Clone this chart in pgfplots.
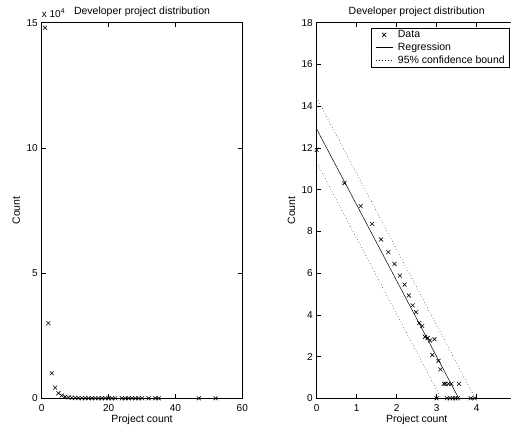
\documentclass[border=0pt]{standalone}
\usepackage{fontspec}
\setmainfont{Liberation Sans}
\usepackage{pgfplots}
\pgfplotsset{compat=1.18}
\pgfplotstableread{
k count
1 148000
2 30000
3 10000
4 4270
5 2020
6 1100
7 626
8 358
9 233
10 138
11 86
12 62
13 37
14 32
15 19
16 18
17 16
18 8
19 17
20 1
21 6
22 4
24 2
25 2
26 1
27 2
28 1
29 2
30 1
32 1
34 1
35 2
47 1
52 1
}\rawdata
\pgfplotstableread{
lnk lncount
0.000 11.905
0.693 10.309
1.099 9.210
1.386 8.359
1.609 7.611
1.792 7.003
1.946 6.439
2.079 5.881
2.197 5.451
2.303 4.927
2.398 4.454
2.485 4.127
2.565 3.611
2.639 3.466
2.708 2.944
2.773 2.890
2.833 2.773
2.890 2.079
2.944 2.833
2.996 0.000
3.045 1.792
3.091 1.386
3.178 0.693
3.219 0.693
3.258 0.000
3.296 0.693
3.332 0.000
3.367 0.693
3.401 0.000
3.466 0.000
3.526 0.000
3.555 0.693
3.850 0.000
3.951 0.000
}\logdata
\begin{document}
\begin{tikzpicture}
\pgfplotsset{
  mstyle/.style={
    scale only axis,
    height=375.6pt,
    tick align=inside,
    major tick length=4pt,
    axis line style={line width=0.6pt},
    every tick/.style={black, line width=0.5pt},
    tick label style={font=\fontsize{10}{12}\selectfont},
    /pgf/number format/assume math mode=true,
    xticklabel style={anchor=base, yshift=-13pt},
    yticklabel style={anchor=east, xshift=-0.5pt},
    every axis title shift=0pt,
    title style={font=\fontsize{10.5}{12}\selectfont, at={(axis description cs:0.5,1)}, anchor=base, yshift=8pt},
    xlabel style={font=\fontsize{10.5}{12}\selectfont, at={(axis description cs:0.5,0)}, anchor=base, yshift=-24.3pt},
    ylabel style={font=\fontsize{10.5}{12}\selectfont, at={([xshift=-21.7pt]axis description cs:0,0.5)}, anchor=base},
    title={Developer project distribution},
    xlabel={Project count},
    ylabel={Count},
  },
  dotstyle/.style={black, line width=0.5pt, dash pattern=on 0.5pt off 2.5pt},
}
\begin{axis}[mstyle,
  at={(41.7pt,29.7pt)}, anchor=south west,
  width=200.6pt,
  xmin=0, xmax=60, ymin=0, ymax=150000,
  xtick={0,20,40,60},
  ytick={0,50000,100000,150000},
  yticklabels={0,5,10,15},
  scaled y ticks=false,
  after end axis/.code={
    \node[anchor=base west, inner sep=0pt, font=\fontsize{10}{12}\selectfont] at ([yshift=5.4pt]rel axis cs:0,1) {x 10\textsuperscript{4}};
  },
]
\addplot[only marks, mark=x, mark size=2.8pt, black, line width=0.6pt] table[x=k, y=count] {\rawdata};
\end{axis}
\begin{axis}[mstyle,
  at={(316.7pt,29.7pt)}, anchor=south west,
  width=200pt,
  xmin=0, xmax=5, ymin=0, ymax=18,
  xtick={0,1,2,3,4},
  ytick={0,2,4,6,8,10,12,14,16,18},
  legend style={at={(axis description cs:1,1)}, anchor=north east, xshift=-7.7pt, yshift=-5.3pt,
    font=\fontsize{10.5}{12}\selectfont, draw=black, line width=0.5pt,
    inner xsep=4pt, inner ysep=1.5pt, row sep=3pt, column sep=5pt,
    nodes={inner sep=0pt, text height=7.5pt, text depth=2.5pt}},
  legend cell align=left,
]
\addplot[only marks, mark=x, mark size=2.8pt, black, line width=0.6pt] table[x=lnk, y=lncount] {\logdata};
\addlegendentry{Data}
\addplot[black, line width=0.5pt] coordinates {(0,12.9) (4,-1.636)};
\addlegendentry{Regression}
\addplot[dotstyle] coordinates {(0,14.4) (4.2,-0.863)};
\addlegendentry{95\% confidence bound}
\addplot[dotstyle, forget plot] coordinates {(0,11.3) (3.4,-1.056)};
\end{axis}
\pgfresetboundingbox
\path[use as bounding box] (0pt,0pt) rectangle (511pt,428pt);
\end{tikzpicture}
\end{document}
